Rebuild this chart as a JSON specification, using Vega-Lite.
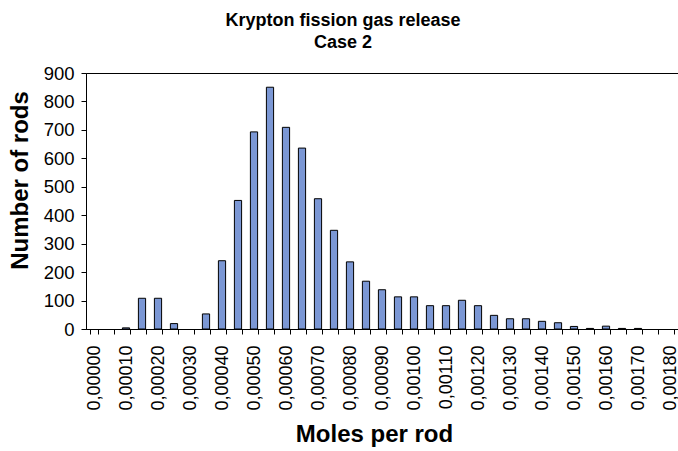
{
  "$schema": "https://vega.github.io/schema/vega-lite/v6.json",
  "autosize": {"type": "none"},
  "padding": {"left": 86, "top": 73, "right": 0, "bottom": 122},
  "width": 592,
  "height": 256,
  "background": "white",
  "config": {
    "font": "Liberation Sans",
    "view": {"stroke": "#000000", "strokeWidth": 1}
  },
  "title": {
    "text": ["Krypton fission gas release", "Case 2"],
    "fontSize": 18,
    "fontWeight": "bold",
    "font": "Liberation Sans",
    "color": "#000000",
    "anchor": "middle",
    "dx": -39,
    "offset": 12,
    "lineHeight": 22
  },
  "data": {
    "values": [
      {"moles": 0.00000, "rods": 0},
      {"moles": 0.00005, "rods": 0},
      {"moles": 0.00010, "rods": 4},
      {"moles": 0.00015, "rods": 108},
      {"moles": 0.00020, "rods": 108},
      {"moles": 0.00025, "rods": 19},
      {"moles": 0.00030, "rods": 0},
      {"moles": 0.00035, "rods": 53},
      {"moles": 0.00040, "rods": 240},
      {"moles": 0.00045, "rods": 452},
      {"moles": 0.00050, "rods": 693},
      {"moles": 0.00055, "rods": 850},
      {"moles": 0.00060, "rods": 709},
      {"moles": 0.00065, "rods": 636},
      {"moles": 0.00070, "rods": 458},
      {"moles": 0.00075, "rods": 347},
      {"moles": 0.00080, "rods": 236},
      {"moles": 0.00085, "rods": 168},
      {"moles": 0.00090, "rods": 138},
      {"moles": 0.00095, "rods": 113},
      {"moles": 0.00100, "rods": 113},
      {"moles": 0.00105, "rods": 82},
      {"moles": 0.00110, "rods": 82},
      {"moles": 0.00115, "rods": 101},
      {"moles": 0.00120, "rods": 82},
      {"moles": 0.00125, "rods": 48},
      {"moles": 0.00130, "rods": 36},
      {"moles": 0.00135, "rods": 36},
      {"moles": 0.00140, "rods": 27},
      {"moles": 0.00145, "rods": 22},
      {"moles": 0.00150, "rods": 9},
      {"moles": 0.00155, "rods": 2},
      {"moles": 0.00160, "rods": 10},
      {"moles": 0.00165, "rods": 2},
      {"moles": 0.00170, "rods": 2},
      {"moles": 0.00175, "rods": 0},
      {"moles": 0.00180, "rods": 0}
    ]
  },
  "mark": {"type": "bar", "fill": "#7b97d4", "stroke": "#000000", "strokeWidth": 1},
  "encoding": {
    "strokeOpacity": {
      "condition": {"test": "datum.rods == 0", "value": 0},
      "value": 1
    },
    "x": {
      "field": "moles",
      "type": "ordinal",
      "scale": {"paddingInner": 0.55, "paddingOuter": 0.275},
      "axis": {
        "title": "Moles per rod",
        "titleFontSize": 24,
        "titleFontWeight": "bold",
        "titleColor": "#000000",
        "titlePadding": 12,
        "titleX": 288,
        "labelAngle": -90,
        "labelFontSize": 18,
        "labelColor": "#000000",
        "labelPadding": 11,
        "labelExpr": "round(datum.value*100000) % 10 == 0 ? replace(format(datum.value, '.5f'), '.', ',') : ''",
        "tickBand": "extent",
        "tickSize": 5,
        "tickColor": "#000000",
        "domainColor": "#000000",
        "labelOverlap": false
      }
    },
    "y": {
      "field": "rods",
      "type": "quantitative",
      "scale": {"domain": [0, 900], "nice": false},
      "axis": {
        "title": "Number of rods",
        "titleFontSize": 24,
        "titleFontWeight": "bold",
        "titleColor": "#000000",
        "titlePadding": 11,
        "titleY": 107,
        "values": [0, 100, 200, 300, 400, 500, 600, 700, 800, 900],
        "labelFontSize": 18.5,
        "labelColor": "#000000",
        "labelPadding": 7,
        "tickSize": 5,
        "tickColor": "#000000",
        "domainColor": "#000000",
        "grid": false
      }
    }
  }
}
